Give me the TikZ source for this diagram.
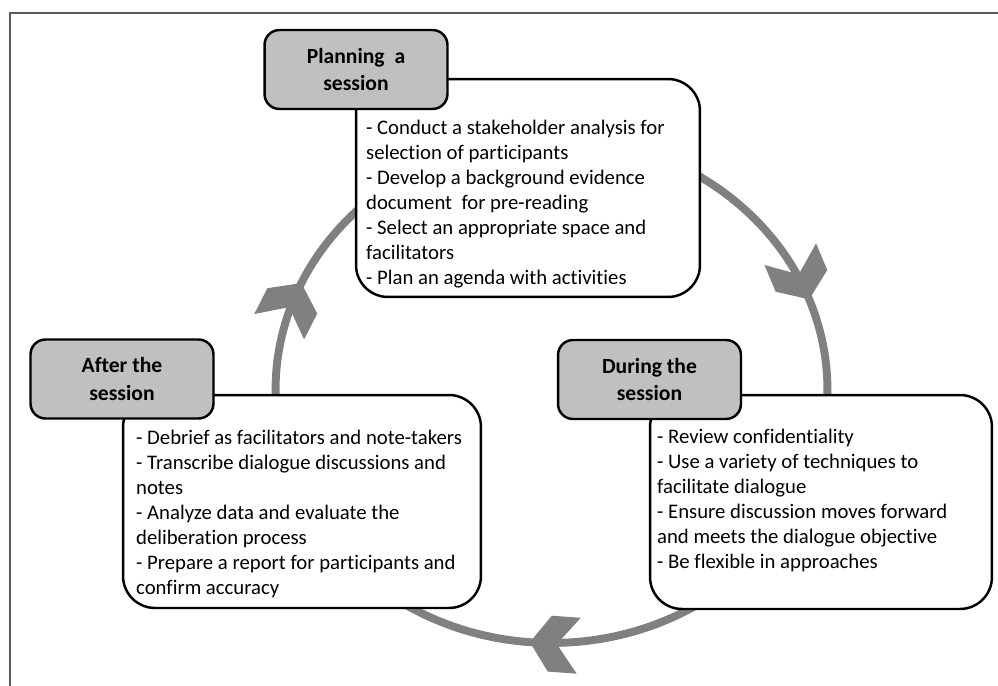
\documentclass[tikz,border=0pt]{standalone}
\usepackage{fontspec}
\setmainfont{Carlito}[RawFeature={-liga}]
\usetikzlibrary{calc}
\definecolor{boxgray}{HTML}{C0C0C0}
\definecolor{cyclegray}{HTML}{808080}
\definecolor{framegray}{HTML}{5A5A5A}

\begin{document}
\begin{tikzpicture}[x=0.02cm,y=-0.02cm]
\useasboundingbox (0,0) rectangle (998,686);

\tikzstyle{titlebox}=[draw,line width=1.4pt,fill=boxgray,rounded corners=0.3cm,minimum width=3.66cm,minimum height=1.58cm,align=center,font=\fontsize{12.3}{15.4}\selectfont\bfseries]
\tikzstyle{listbox}=[draw,line width=1.4pt,fill=white,rounded corners=0.64cm,inner sep=0pt]
\tikzstyle{listtext}=[anchor=north west,inner sep=0pt,align=left,font=\fontsize{11.8}{14.23}\selectfont]
\tikzstyle{cycle}=[line width=4.5pt,draw=cyclegray]

% frame
\draw[framegray,line width=1.2pt] (10,686) -- (10,13) -- (998,13);

% cycle with chevrons
\draw[cycle] (551.5,390) ellipse [x radius=5.52cm, y radius=5.06cm];
\foreach \t in {21,155,265.5}{
  \pgfmathsetmacro{\ang}{atan2(-253*cos(\t),276*sin(\t))}
  \fill[cyclegray,shift={({551.5+276*cos(\t)},{390-253*sin(\t)})},rotate=\ang]
    (0,0) -- (-20,28) -- (-49,28) -- (-27,0) -- (-49,-28) -- (-20,-28) -- cycle;
}

% planning
\node[listbox,minimum width=6.88cm,minimum height=4.36cm] (planbox) at (528,188) {};
\node[listtext] (plantext) at ($(planbox.north west)+(11,42)$)
  {- Conduct a stakeholder analysis for\\selection of participants\\- Develop a background evidence\\document~ for pre-reading\\- Select an appropriate space and\\facilitators\\- Plan an agenda with activities};
\node[titlebox] (plantitle) at (356,69.5) {Planning~ a\\session};

% during
\node[listbox,minimum width=6.84cm,minimum height=4.28cm] (duringbox) at (821,502) {};
\node[listtext] (duringtext) at ($(duringbox.north west)+(8,35)$)
  {- Review confidentiality\\- Use a variety of techniques to\\facilitate dialogue\\- Ensure discussion moves forward\\and meets the dialogue objective\\- Be flexible in approaches};
\node[titlebox] (duringtitle) at (649.5,379.5) {During the\\session};

% after
\node[listbox,minimum width=7.16cm,minimum height=4.26cm] (afterbox) at (302,501.5) {};
\node[listtext] (aftertext) at ($(afterbox.north west)+(14,36)$)
  {- Debrief as facilitators and note-takers\\- Transcribe dialogue discussions and\\notes\\- Analyze data and evaluate the\\deliberation process\\- Prepare a report for participants and\\confirm accuracy};
\node[titlebox] (aftertitle) at (122,379) {After the\\session};
\end{tikzpicture}
\end{document}
